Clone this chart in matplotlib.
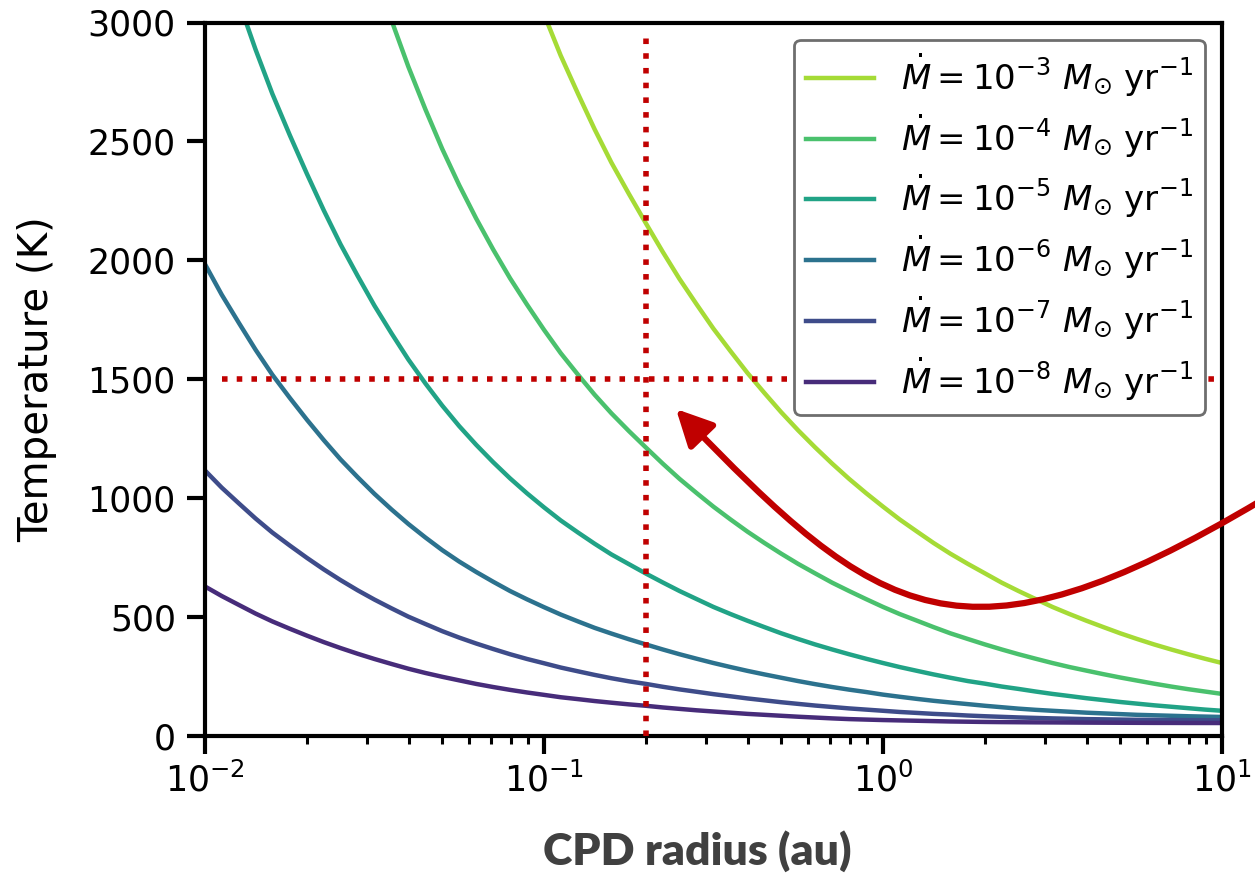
"""
CPD temperature vs radius for several accretion rates
"""
import matplotlib
matplotlib.use('Agg')
import matplotlib.pyplot as plt
from matplotlib.path import Path
from matplotlib.patches import FancyArrowPatch

# radius grid (au) and temperatures (K)
radius_au = [0.01, 0.0112, 0.0126, 0.0141, 0.0158, 0.0178, 0.02, 0.0224, 0.0251, 0.0282,
             0.0316, 0.0355, 0.0398, 0.0447, 0.0501, 0.0562, 0.0631, 0.0708, 0.0794, 0.0891,
             0.1, 0.112, 0.126, 0.141, 0.158, 0.178, 0.2, 0.224, 0.251, 0.282,
             0.316, 0.355, 0.398, 0.447, 0.501, 0.562, 0.631, 0.708, 0.794, 0.891,
             1, 1.12, 1.26, 1.41, 1.58, 1.78, 2, 2.24, 2.51, 2.82,
             3.16, 3.55, 3.98, 4.47, 5.01, 5.62, 6.31, 7.08, 7.94, 8.91, 10]

temp_1e3 = [11150, 10430, 9757, 9127, 8535, 7986, 7468, 6988, 6536, 6114,
            5720, 5350, 5004, 4685, 4389, 4118, 3867, 3636, 3421, 3224,
            3035, 2861, 2700, 2551, 2411, 2279, 2154, 2035, 1921, 1814,
            1712, 1617, 1526, 1441, 1360, 1284, 1212, 1144, 1080, 1020,
            963, 909, 858, 810, 765, 722, 682, 643, 608, 574,
            541, 511, 483, 456, 430, 406, 383, 362, 342, 323, 305]
temp_1e4 = [6270, 5866, 5487, 5132, 4800, 4491, 4200, 3930, 3676, 3438,
            3216, 3009, 2814, 2634, 2468, 2316, 2175, 2045, 1924, 1813,
            1707, 1609, 1518, 1434, 1356, 1281, 1211, 1144, 1080, 1020,
            963, 909, 858, 810, 765, 722, 682, 643, 608, 574,
            541, 511, 483, 456, 430, 406, 383, 362, 342, 323,
            305, 288, 273, 258, 244, 231, 218, 206, 195, 185, 175]
temp_1e5 = [3526, 3298, 3085, 2886, 2700, 2525, 2362, 2210, 2067, 1934,
            1809, 1692, 1582, 1481, 1388, 1302, 1223, 1150, 1082, 1019,
            960, 905, 854, 807, 762, 721, 681, 644, 608, 574,
            541, 511, 483, 456, 430, 406, 383, 362, 342, 323,
            305, 288, 272, 257, 243, 229, 218, 206, 196, 185,
            175, 166, 157, 149, 141, 134, 127, 121, 115, 109, 104]
temp_1e6 = [1983, 1855, 1735, 1623, 1518, 1420, 1328, 1243, 1162, 1087,
            1017, 951, 890, 833, 780, 732, 688, 647, 608, 573,
            540, 509, 480, 453, 429, 405, 383, 362, 342, 323,
            305, 288, 272, 257, 243, 229, 216, 204, 193, 183,
            172, 163, 154, 146, 139, 132, 125, 119, 113, 108,
            104, 100, 96, 93, 90, 87, 85, 83, 81, 79.5, 78]
temp_1e7 = [1115, 1043, 976, 913, 854, 799, 747, 699, 654, 611,
            572, 535, 500, 469, 439, 412, 387, 364, 342, 322,
            304, 286, 270, 255, 241, 228, 217, 205, 194, 184,
            174, 165, 156, 148, 140, 133, 126, 120, 114, 109,
            104, 99, 95, 91, 88, 84, 81, 78.5, 76, 74,
            72, 70.5, 69, 68, 67, 66, 65.5, 65, 64.5, 64.2, 64]
temp_1e8 = [627, 587, 549, 513, 480, 449, 420, 393, 368, 344,
            322, 301, 281, 263, 247, 232, 217, 204, 192, 181,
            171, 161, 153, 145, 138, 131, 125, 118, 112, 106,
            101, 96, 91, 87, 83, 79, 75.5, 72, 69, 67,
            65, 63.5, 62, 60.5, 59, 58, 57, 56.3, 55.8, 55.3,
            55, 54.6, 54.2, 53.9, 53.6, 53.3, 53, 52.9, 52.7, 52.6, 52.5]

exponents = [-3, -4, -5, -6, -7, -8]
curves = [temp_1e3, temp_1e4, temp_1e5, temp_1e6, temp_1e7, temp_1e8]
colors = ['#a5db36', '#4ac16d', '#21a386', '#2c728e', '#3e4c8a', '#472c7a']

# marked radius / temperature
mark_r = 0.2
mark_T = 1500

W, H = 1255, 876
fig = plt.figure(figsize=(W / 100, H / 100), dpi=100)
ax = fig.add_axes([205 / W, 1 - 735.5 / H, 1017 / W, 713 / H])

for T, e, c in zip(curves, exponents, colors):
    ax.plot(radius_au, T, color=c, lw=3.2,
            label=r'$\dot{M} = 10^{%d}\ M_{\odot}$ yr$^{-1}$' % e)

red = '#c00000'
ax.plot([mark_r, mark_r], [0, 2950], color=red, lw=4, ls=':', zorder=3)
ax.plot([0.0112, 9.72], [mark_T, mark_T], color=red, lw=4, ls=':', zorder=3)

ax.set_xscale('log')
ax.set_xlim(0.01, 10)
ax.set_ylim(0, 3000)
ax.set_yticks([0, 500, 1000, 1500, 2000, 2500, 3000])

for sp in ax.spines.values():
    sp.set_linewidth(3)
ax.tick_params(which='major', length=13, width=3, labelsize=25)
ax.tick_params(which='minor', length=6, width=2.2)
ax.tick_params(axis='y', pad=8)
ax.tick_params(axis='x', pad=6)

ax.set_ylabel('Temperature (K)', fontsize=29)
ax.yaxis.set_label_coords(-0.1455, 0.5)

leg = ax.legend(loc='upper right', fontsize=24.5, framealpha=1, fancybox=True,
                labelspacing=0.4, handlelength=2.0, borderpad=0.35)
leg.get_frame().set_edgecolor('#6e6e6e')
leg.get_frame().set_linewidth(2)

fig.text(697 / W, 1 - 851 / H, 'CPD radius (au)', family='Lato',
         fontweight='heavy', fontsize=32, color='#404040',
         ha='center', va='center')

# curved arrow pointing at the crossing
pts = [(1262, 500), (960, 680), (880, 620), (676, 409)]
path = Path([(x / W, 1 - y / H) for x, y in pts],
            [Path.MOVETO, Path.CURVE4, Path.CURVE4, Path.CURVE4])
arrow = FancyArrowPatch(path=path, transform=fig.transFigure,
                        arrowstyle='-|>,head_length=0.4,head_width=0.2',
                        mutation_scale=55, color=red, lw=4.5,
                        shrinkA=0, shrinkB=0)
fig.add_artist(arrow)

fig.savefig('out.png', dpi=100)
